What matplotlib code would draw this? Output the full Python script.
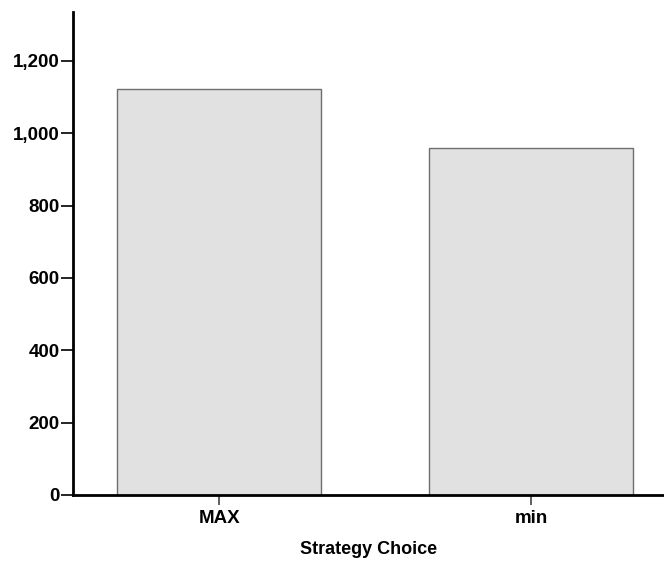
import matplotlib
matplotlib.use("Agg")
import matplotlib.pyplot as plt
from matplotlib.ticker import FuncFormatter

categories = ["MAX", "min"]
counts = [1122, 959]
y_ticks = [0, 200, 400, 600, 800, 1000, 1200]

plt.rcParams['font.family'] = ['Liberation Sans', 'DejaVu Sans']

fig = plt.figure(figsize=(6.64, 5.67), dpi=100)
ax = fig.add_axes([0.110, 0.127, 0.89, 0.852])

x = range(len(categories))
ax.bar(x, counts, width=0.654, color='#e1e1e1', edgecolor='#6e6e6e', linewidth=1.0, zorder=2)

ax.set_xlim(-0.468, 1.426)
ax.set_ylim(0, 1335)
ax.set_xticks(list(x))
ax.set_xticklabels(categories, fontsize=13.5, fontweight='bold')
ax.set_yticks(y_ticks)
ax.yaxis.set_major_formatter(FuncFormatter(lambda v, p: f"{int(v):,}"))
for lbl in ax.get_yticklabels():
    lbl.set_fontweight('bold')
    lbl.set_fontsize(13.5)

ax.tick_params(axis='y', length=9, width=1.2, pad=0.5)
ax.tick_params(axis='x', length=7, width=1.2, color='#444444', pad=4)

for side in ['top', 'right']:
    ax.spines[side].set_visible(False)
ax.spines['left'].set_linewidth(2)
ax.spines['bottom'].set_linewidth(2)

ax.set_xlabel("Strategy Choice", fontsize=13, fontweight='bold', labelpad=10)

fig.savefig("out.png", dpi=100)
